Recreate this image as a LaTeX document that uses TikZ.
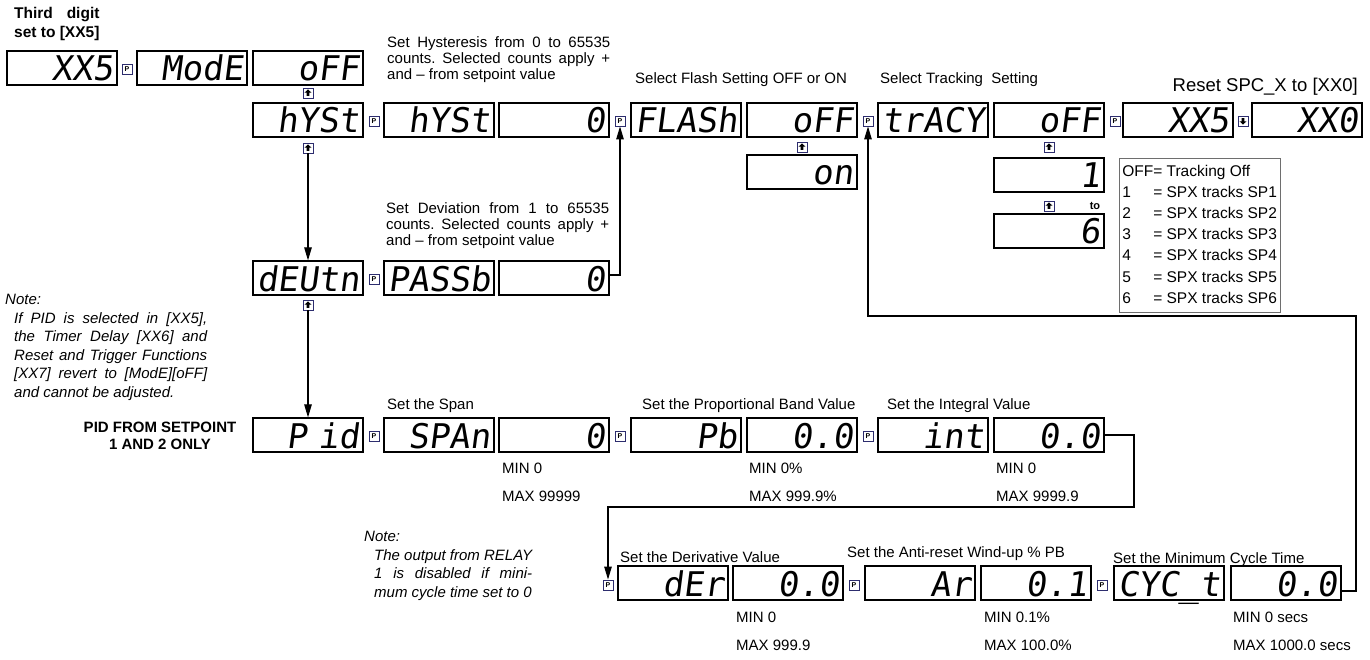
\documentclass[tikz,border=0pt]{standalone}
\usepackage{fontspec}
\setmainfont{Liberation Sans}
\newfontfamily\segfamily{DejaVu Sans Mono}[FakeSlant=0.13]
\usetikzlibrary{arrows.meta}
\usepackage{xcolor}
\definecolor{keyblue}{RGB}{45,45,110}
\definecolor{leggray}{RGB}{110,110,110}
\frenchspacing

\newcommand{\segtext}{\segfamily\fontsize{34}{34}\selectfont}
\newcommand{\bodytext}{\fontsize{15}{16}\selectfont}

\begin{document}
\begin{tikzpicture}[x=1pt, y=-1pt,
  disp/.style={draw, line width=1.2pt, text width=102pt, align=right, inner xsep=4pt,
    inner ysep=4pt, text height=26pt, text depth=0pt, font=\segtext},
  keybox/.style={draw=keyblue, line width=0.9pt, minimum size=10pt, inner sep=0pt},
  pbtn/.style={keybox, font=\fontsize{7}{7}\selectfont\bfseries},
  upbtn/.style={keybox, path picture={\fill ([yshift=3.6pt]path picture bounding box.center)
    -- ++(-3.4pt,-3.2pt) -- ++(2pt,0pt) -- ++(0pt,-3.2pt) -- ++(2.8pt,0pt)
    -- ++(0pt,3.2pt) -- ++(2pt,0pt) -- cycle;}},
  downbtn/.style={keybox, path picture={\fill ([yshift=-3.6pt]path picture bounding box.center)
    -- ++(-3.4pt,3.2pt) -- ++(2pt,0pt) -- ++(0pt,3.2pt) -- ++(2.8pt,0pt)
    -- ++(0pt,-3.2pt) -- ++(2pt,0pt) -- cycle;}},
  lbl/.style={font=\bodytext, inner sep=0pt, anchor=base west},
  para/.style={font=\bodytext, inner sep=0pt, anchor=north west, align=justify},
  minmax/.style={lbl},
  wire/.style={line width=1.1pt},
  flow/.style={wire, -{Triangle[length=13pt,width=7.5pt]}},
]
\useasboundingbox (0,0) rectangle (1370,660);

% start: third digit set to 5
\node[font=\fontsize{15.5}{19}\selectfont\bfseries, inner sep=0pt, anchor=north west] (digit)
  at (14,5) {\begin{tabular}{@{}l@{}}Third\hfill digit\\ set to [XX5]\end{tabular}};
\node[disp] (x5a) at (62,68) {XX5};
\node[pbtn] (p1) at (127,69) {P};
\node[disp] (mode) at (192,68) {ModE};
\node[disp] (modeoff) at (308,68) {oFF};
\node[upbtn] (u1) at (308,93) {};

% hysteresis, flash, tracking, reset
\node[para, text width=223pt] (hysthd) at (387,36.5)
  {Set Hysteresis from 0 to 65535\linebreak counts. Selected counts apply +\linebreak and -- from setpoint value};
\node[lbl] (flashhd) at (635,83.4) {Select Flash Setting OFF or ON};
\node[lbl] (trckhd) at (880,83.4) {Select Tracking\ \ Setting};
\node[lbl, anchor=base east, font=\fontsize{18.5}{20}\selectfont] (resethd) at (1358,91.7) {Reset SPC\_X to [XX0]};

\node[disp] (hyst) at (308,120) {hYSt};
\node[pbtn] (p2) at (374,121) {P};
\node[disp] (hyst2) at (439,120) {hYSt};
\node[disp] (hystval) at (554,120) {0};
\node[pbtn] (p3) at (620,121) {P};
\node[disp] (flash) at (686,120) {FLASh};
\node[disp] (flashoff) at (802,120) {oFF};
\node[pbtn] (p4) at (868,121) {P};
\node[disp] (trck) at (933,120) {trACY};
\node[disp] (trckoff) at (1049,120) {oFF};
\node[pbtn] (p5) at (1115,121) {P};
\node[disp] (x5b) at (1178,120) {XX5};
\node[downbtn] (d1) at (1243,121) {};
\node[disp] (x0) at (1307,120) {XX0};

\node[upbtn] (u2) at (308,148) {};
\node[upbtn] (u3) at (802,147) {};
\node[disp] (flashon) at (802,172) {on};
\node[upbtn] (u4) at (1049,147) {};
\node[disp] (trck1) at (1049,175) {1};
\node[upbtn] (u5) at (1049,206) {};
\node[font=\fontsize{11}{11}\selectfont\bfseries, inner sep=0pt] (upto) at (1095,206) {to};
\node[disp] (trck6) at (1049,231) {6};

% tracking legend
\node[draw=leggray, line width=0.6pt, inner sep=3pt, anchor=north west,
  font=\fontsize{15.5}{21.2}\selectfont] (trkleg) at (1119,158)
  {\begin{tabular}{@{}l@{}l@{}}
   OFF & = Tracking Off\\
   1 & = SPX tracks SP1\\
   2 & = SPX tracks SP2\\
   3 & = SPX tracks SP3\\
   4 & = SPX tracks SP4\\
   5 & = SPX tracks SP5\\
   6 & = SPX tracks SP6
  \end{tabular}};

% deviation
\node[para, text width=223pt] (devhd) at (386,202)
  {Set Deviation from 1 to 65535\linebreak counts. Selected counts apply +\linebreak and -- from setpoint value};
\node[disp] (devn) at (308,278) {dEUtn};
\node[pbtn] (p6) at (374,279) {P};
\node[disp] (passb) at (439,278) {PASSb};
\node[disp] (passval) at (554,278) {0};
\node[upbtn] (u6) at (308,305) {};

\node[lbl, font=\bodytext\itshape] (note1) at (5,304.4) {Note:};
\node[para, font=\fontsize{15}{18.5}\selectfont\itshape, text width=193pt] (note1txt) at (14,312)
  {If PID is selected in [XX5],\linebreak the Timer Delay [XX6] and\linebreak Reset and Trigger Functions\linebreak{}
   [XX7] revert to [ModE][oFF]\linebreak{} and cannot be adjusted.};

% PID row
\node[font=\fontsize{15}{17}\selectfont\bfseries, align=center, inner sep=0pt] (pidnote) at (160,436)
  {PID FROM SETPOINT\\1 AND 2 ONLY};
\node[lbl] (spanhd) at (387,409.4) {Set the Span};
\node[lbl] (pbhd) at (642,409.4) {Set the Proportional Band Value};
\node[lbl] (inthd) at (887,409.4) {Set the Integral Value};

\node[disp] (pid) at (308,435) {P id};
\node[pbtn] (p7) at (374,436) {P};
\node[disp] (span) at (439,435) {SPAn};
\node[disp] (spanval) at (554,435) {0};
\node[pbtn] (p8) at (620,436) {P};
\node[disp] (pb) at (686,435) {Pb};
\node[disp] (pbval) at (802,435) {0.0};
\node[pbtn] (p9) at (868,436) {P};
\node[disp] (intg) at (933,435) {int};
\node[disp] (intval) at (1049,435) {0.0};

\node[minmax] (spanmin) at (502,473.4) {MIN 0};
\node[minmax] (spanmax) at (502,501.4) {MAX 99999};
\node[minmax] (pbmin) at (749,473.4) {MIN 0\%};
\node[minmax] (pbmax) at (749,501.4) {MAX 999.9\%};
\node[minmax] (intmin) at (996,473.4) {MIN 0};
\node[minmax] (intmax) at (996,501.4) {MAX 9999.9};

% derivative, anti-reset, cycle time
\node[lbl, font=\bodytext\itshape] (note2) at (364,541.4) {Note:};
\node[para, font=\fontsize{15}{18.5}\selectfont\itshape, text width=158pt] (note2txt) at (374,549)
  {The output from RELAY\linebreak{} 1 is disabled if mini-\linebreak{} mum cycle time set to 0};
\node[lbl] (derhd) at (620,562.4) {Set the Derivative Value};
\node[lbl] (arhd) at (847,557.4) {Set the Anti-reset Wind-up \% PB};
\node[lbl] (cychd) at (1113,563.4) {Set the Minimum Cycle Time};

\node[pbtn] (p10) at (608,585) {P};
\node[disp] (der) at (673,583) {dEr};
\node[disp] (derval) at (788,583) {0.0};
\node[pbtn] (p11) at (854,585) {P};
\node[disp] (ar) at (920,583) {Ar};
\node[disp] (arval) at (1036,583) {0.1};
\node[pbtn] (p12) at (1102,585) {P};
\node[disp] (cyc) at (1169,583) {CYC\_t};
\node[disp] (cycval) at (1286,583) {0.0};

\node[minmax] (dermin) at (736,622.4) {MIN 0};
\node[minmax] (dermax) at (736,650.4) {MAX 999.9};
\node[minmax] (armin) at (984,622.4) {MIN 0.1\%};
\node[minmax] (armax) at (984,650.4) {MAX 100.0\%};
\node[minmax] (cycmin) at (1233,622.4) {MIN 0 secs};
\node[minmax] (cycmax) at (1233,650.4) {MAX 1000.0 secs};

% connectors
\coordinate (pbend) at (1134,507);
\coordinate (rbend) at (1356,316);
\draw[flow] (u2.south) -- (devn.north);
\draw[flow] (u6.south) -- (pid.north);
\draw[flow] ([yshift=3pt]passval.east) -| (p3.south);
\draw[flow] (intval.east) -| (pbend) -| (p10.north);
\draw[flow] ([yshift=-8pt]cycval.east) -| (rbend) -| (p4.south);

\end{tikzpicture}
\end{document}
